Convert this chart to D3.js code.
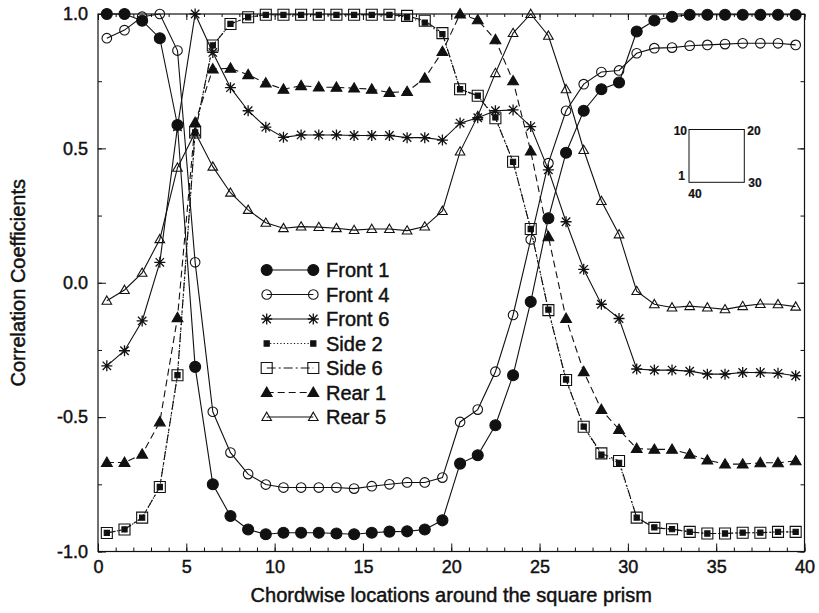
<!DOCTYPE html>
<html>
<head>
<meta charset="utf-8">
<script src="https://cdn.jsdelivr.net/npm/d3@7"></script>
<style>
  html, body { margin: 0; padding: 0; background: #fff; }
  svg { display: block; font-family: "Liberation Sans", Arial, Helvetica, sans-serif; }
  svg text { stroke: #111; stroke-width: 0.45px; }
</style>
</head>
<body>
<svg id="chart" width="819" height="613"></svg>
<script>
// Chordwise tap locations (one per pressure tap around the prism)
const locations = [0.5, 1.5, 2.5, 3.5, 4.5, 5.5, 6.5, 7.5, 8.5, 9.5,
  10.5, 11.5, 12.5, 13.5, 14.5, 15.5, 16.5, 17.5, 18.5, 19.5,
  20.5, 21.5, 22.5, 23.5, 24.5, 25.5, 26.5, 27.5, 28.5, 29.5,
  30.5, 31.5, 32.5, 33.5, 34.5, 35.5, 36.5, 37.5, 38.5, 39.5];

const seriesNames = ["Front 1", "Front 4", "Front 6", "Side 2", "Side 6", "Rear 1", "Rear 5"];

const front1 = [1.0, 1.0, 0.975, 0.91, 0.587, -0.313, -0.75, -0.868, -0.918, -0.936,
  -0.93, -0.93, -0.93, -0.933, -0.936, -0.93, -0.926, -0.925, -0.918, -0.884,
  -0.673, -0.642, -0.53, -0.344, -0.071, 0.24, 0.484, 0.64, 0.72, 0.745,
  0.935, 0.976, 0.99, 0.997, 0.997, 0.997, 0.997, 0.997, 0.997, 0.997];

const front4 = [0.91, 0.94, 0.99, 1.0, 0.864, 0.076, -0.48, -0.632, -0.712, -0.751,
  -0.762, -0.762, -0.762, -0.762, -0.766, -0.757, -0.75, -0.743, -0.743, -0.725,
  -0.518, -0.472, -0.331, -0.12, 0.161, 0.445, 0.64, 0.739, 0.784, 0.79,
  0.854, 0.873, 0.875, 0.882, 0.885, 0.888, 0.891, 0.891, 0.891, 0.885];

const front6 = [-0.309, -0.253, -0.142, 0.076, 0.58, 1.0, 0.857, 0.726, 0.64, 0.579,
  0.541, 0.55, 0.55, 0.55, 0.548, 0.548, 0.548, 0.54, 0.54, 0.531,
  0.594, 0.614, 0.64, 0.643, 0.581, 0.42, 0.227, 0.05, -0.08, -0.133,
  -0.321, -0.325, -0.325, -0.329, -0.34, -0.34, -0.334, -0.334, -0.337, -0.346];

const side2 = [-0.931, -0.918, -0.874, -0.76, -0.344, 0.559, 0.883, 0.963, 0.988, 0.997,
  0.997, 0.997, 0.997, 0.997, 0.997, 0.997, 0.997, 0.988, 0.968, 0.925,
  0.72, 0.696, 0.615, 0.45, 0.2, -0.1, -0.36, -0.535, -0.64, -0.67,
  -0.874, -0.91, -0.917, -0.927, -0.933, -0.933, -0.93, -0.93, -0.927, -0.927];

const side6 = [-0.931, -0.918, -0.874, -0.76, -0.344, 0.559, 0.883, 0.963, 0.988, 0.997,
  0.997, 0.997, 0.997, 0.997, 0.997, 0.997, 0.997, 0.993, 0.975, 0.929,
  0.72, 0.696, 0.612, 0.45, 0.2, -0.102, -0.362, -0.536, -0.635, -0.663,
  -0.874, -0.912, -0.917, -0.927, -0.933, -0.933, -0.93, -0.93, -0.927, -0.927];

const rear1 = [-0.669, -0.669, -0.638, -0.518, -0.13, 0.596, 0.795, 0.798, 0.774, 0.743,
  0.72, 0.733, 0.728, 0.727, 0.724, 0.72, 0.708, 0.711, 0.761, 0.86,
  1.0, 0.978, 0.904, 0.751, 0.49, 0.171, -0.133, -0.331, -0.472, -0.546,
  -0.617, -0.62, -0.62, -0.638, -0.66, -0.675, -0.675, -0.67, -0.67, -0.663];

const rear5 = [-0.067, -0.027, 0.037, 0.162, 0.428, 0.559, 0.432, 0.335, 0.271, 0.223,
  0.203, 0.209, 0.207, 0.203, 0.196, 0.2, 0.2, 0.194, 0.209, 0.267,
  0.488, 0.62, 0.78, 0.929, 1.0, 0.919, 0.72, 0.494, 0.304, 0.18,
  -0.031, -0.08, -0.092, -0.087, -0.092, -0.099, -0.087, -0.079, -0.08, -0.089];

const xMajorTicks = [0, 5, 10, 15, 20, 25, 30, 35, 40];
const yMajorTicks = [-1.0, -0.5, 0.0, 0.5, 1.0];
const yTickLabels = ["-1.0", "-0.5", "0.0", "0.5", "1.0"];
const xTitle = "Chordwise locations around the square prism";
const yTitle = "Correlation Coefficients";
const insetLabels = ["10", "20", "1", "30", "40"];

// ---- layout ----
const svg = d3.select("#chart");
const plot = { left: 98, top: 14, right: 804.5, bottom: 551.5 };

const x = d3.scaleLinear().domain([0, 40]).range([plot.left, plot.right]);
const y = d3.scaleLinear().domain([-1, 1]).range([plot.bottom, plot.top]);

// ---- marker shapes ----
function markerPath(kind) {
  switch (kind) {
    case "dot": { const r = 5.5; return `M${-r},0A${r},${r} 0 1,0 ${r},0A${r},${r} 0 1,0 ${-r},0Z`; }
    case "ring": { const r = 4.8; return `M${-r},0A${r},${r} 0 1,0 ${r},0A${r},${r} 0 1,0 ${-r},0Z`; }
    case "star": { const a = 5.5, d = 4.2; return `M${-a},0L${a},0M0,${-a}L0,${a}M${-d},${-d}L${d},${d}M${-d},${d}L${d},${-d}`; }
    case "smallsq": { const h = 2.6; return `M${-h},${-h}H${h}V${h}H${-h}Z`; }
    case "box": { const h = 5.5; return `M${-h},${-h}H${h}V${h}H${-h}Z`; }
    case "tri": { const s = 5.4; return `M0,${-s}L${s},${s * 0.72}L${-s},${s * 0.72}Z`; }
    case "otri": { const s = 4.8; return `M0,${-s}L${s},${s * 0.72}L${-s},${s * 0.72}Z`; }
  }
}

const series = [
  { name: seriesNames[0], values: front1, marker: "dot", filled: true, dash: null },
  { name: seriesNames[1], values: front4, marker: "ring", filled: false, dash: null },
  { name: seriesNames[2], values: front6, marker: "star", filled: false, dash: null },
  { name: seriesNames[3], values: side2, marker: "smallsq", filled: true, dash: "1.2,2.2" },
  { name: seriesNames[4], values: side6, marker: "box", filled: false, dash: "9,3,2,3" },
  { name: seriesNames[5], values: rear1, marker: "tri", filled: true, dash: "7,4" },
  { name: seriesNames[6], values: rear5, marker: "otri", filled: false, dash: null }
];

// ---- axes ----
const axisG = svg.append("g").attr("class", "axes");

function styleAxis(g) {
  g.select(".domain").remove();
  g.selectAll(".tick line").attr("stroke", "#111").attr("stroke-width", 1);
  g.selectAll("text").attr("fill", "#111").attr("font-size", 18);
}

// bottom
axisG.append("g").attr("transform", `translate(0,${plot.bottom})`)
  .call(d3.axisBottom(x).tickValues(d3.range(0, 41, 1)).tickSize(-4).tickFormat(""))
  .call(styleAxis);
axisG.append("g").attr("transform", `translate(0,${plot.bottom})`)
  .call(d3.axisBottom(x).tickValues(xMajorTicks).tickSize(-8).tickPadding(9).tickFormat(d3.format("d")))
  .call(styleAxis);
// top
axisG.append("g").attr("transform", `translate(0,${plot.top})`)
  .call(d3.axisTop(x).tickValues(d3.range(0, 41, 1)).tickSize(-3).tickFormat(""))
  .call(styleAxis);
axisG.append("g").attr("transform", `translate(0,${plot.top})`)
  .call(d3.axisTop(x).tickValues(xMajorTicks).tickSize(-6).tickFormat(""))
  .call(styleAxis);
// left
axisG.append("g").attr("transform", `translate(${plot.left},0)`)
  .call(d3.axisLeft(y).tickValues(d3.range(-1, 1.01, 0.25)).tickSize(-4).tickFormat(""))
  .call(styleAxis);
axisG.append("g").attr("transform", `translate(${plot.left},0)`)
  .call(d3.axisLeft(y).tickValues(yMajorTicks).tickSize(-8).tickPadding(10)
    .tickFormat((d, i) => yTickLabels[i]))
  .call(styleAxis);
// right
axisG.append("g").attr("transform", `translate(${plot.right},0)`)
  .call(d3.axisRight(y).tickValues(d3.range(-1, 1.01, 0.25)).tickSize(-4).tickFormat(""))
  .call(styleAxis);
axisG.append("g").attr("transform", `translate(${plot.right},0)`)
  .call(d3.axisRight(y).tickValues(yMajorTicks).tickSize(-7).tickFormat(""))
  .call(styleAxis);

// frame
svg.append("rect")
  .attr("x", plot.left).attr("y", plot.top)
  .attr("width", plot.right - plot.left).attr("height", plot.bottom - plot.top)
  .attr("fill", "none").attr("stroke", "#111").attr("stroke-width", 1.2);

// axis titles
svg.append("text")
  .attr("x", (plot.left + plot.right) / 2).attr("y", 602)
  .attr("text-anchor", "middle").attr("font-size", 20).attr("fill", "#111")
  .text(xTitle);
svg.append("text")
  .attr("transform", `translate(25,${(plot.top + plot.bottom) / 2}) rotate(-90)`)
  .attr("text-anchor", "middle").attr("font-size", 20).attr("fill", "#111")
  .text(yTitle);

// ---- series ----
const line = d3.line().x(d => x(d[0])).y(d => y(d[1]));
const dataG = svg.append("g").attr("class", "series");

series.forEach(s => {
  const pts = locations.map((loc, i) => [loc, s.values[i]]);
  const g = dataG.append("g");
  g.append("path")
    .attr("d", line(pts))
    .attr("fill", "none").attr("stroke", "#111").attr("stroke-width", 1.1)
    .attr("stroke-dasharray", s.dash);
  g.selectAll("path.mk").data(pts).join("path")
    .attr("class", "mk")
    .attr("transform", d => `translate(${x(d[0])},${y(d[1])})`)
    .attr("d", markerPath(s.marker))
    .attr("fill", s.filled ? "#111" : "none")
    .attr("stroke", "#111").attr("stroke-width", s.marker === "star" ? 1.3 : 1.1);
});

// ---- legend ----
const legend = svg.append("g").attr("class", "legend");
const legX1 = 266.7, legX2 = 313.3, legText = 326, legY0 = 270, legStep = 24.5;
series.forEach((s, i) => {
  const ly = legY0 + i * legStep;
  const g = legend.append("g");
  g.append("line").attr("x1", legX1).attr("x2", legX2).attr("y1", ly).attr("y2", ly)
    .attr("stroke", "#111").attr("stroke-width", 1.1).attr("stroke-dasharray", s.dash);
  [legX1, legX2].forEach(lx => {
    g.append("path").attr("transform", `translate(${lx},${ly})`)
      .attr("d", markerPath(s.marker))
      .attr("fill", s.filled ? "#111" : "none")
      .attr("stroke", "#111").attr("stroke-width", s.marker === "star" ? 1.3 : 1.1);
  });
  g.append("text").attr("x", legText).attr("y", ly).attr("dy", "0.36em")
    .attr("font-size", 20).attr("fill", "#111").text(s.name);
});

// ---- inset: tap numbering around the prism section ----
const inset = svg.append("g").attr("class", "inset");
const box = { x0: 689, y0: 129.5, x1: 744.3, y1: 182.3 };
inset.append("rect")
  .attr("x", box.x0).attr("y", box.y0)
  .attr("width", box.x1 - box.x0).attr("height", box.y1 - box.y0)
  .attr("fill", "none").attr("stroke", "#111").attr("stroke-width", 1);
const insetPos = [
  { x: box.x0 - 2, y: box.y0 + 1, anchor: "end" },
  { x: box.x1 + 3, y: box.y0 + 1, anchor: "start" },
  { x: box.x0 - 4, y: box.y1 - 7, anchor: "end" },
  { x: box.x1 + 4, y: box.y1, anchor: "start" },
  { x: box.x0 + 6, y: box.y1 + 11, anchor: "middle" }
];
insetLabels.forEach((t, i) => {
  inset.append("text")
    .attr("x", insetPos[i].x).attr("y", insetPos[i].y).attr("dy", "0.36em")
    .attr("text-anchor", insetPos[i].anchor)
    .attr("font-size", 12).attr("font-weight", "bold").attr("fill", "#111")
    .style("stroke-width", "0.2px")
    .text(t);
});
</script>
</body>
</html>
